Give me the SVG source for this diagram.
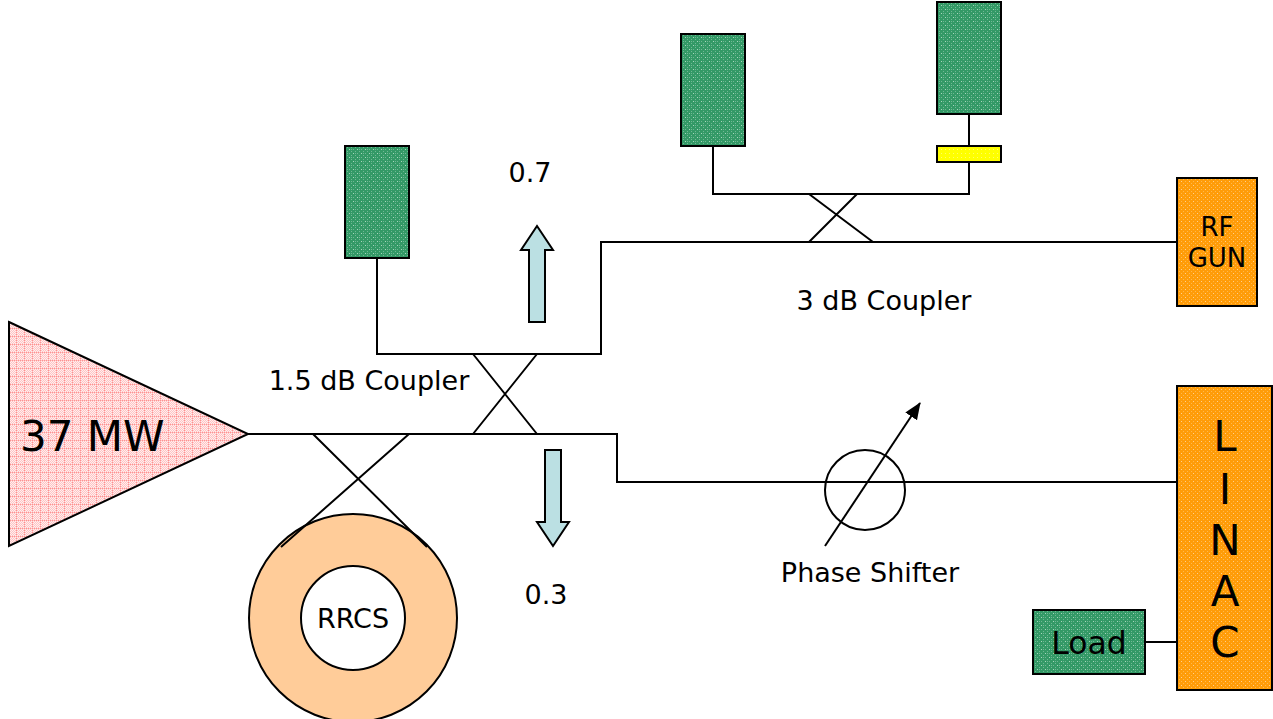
<svg xmlns="http://www.w3.org/2000/svg" width="1273" height="719" viewBox="0 0 1273 719">
<style>
text{font-family:"DejaVu Sans",Verdana,sans-serif;fill:#000}
.s{stroke:#000;stroke-width:2;fill:none}
.b{stroke:#000;stroke-width:2}
.l{font-size:27px}
.x{stroke:#000;stroke-width:2;fill:none}
</style>
<defs>
<pattern id="pg" width="8" height="8" patternUnits="userSpaceOnUse"><rect width="8" height="8" fill="#339966"/><path d="M1 1h1v1h-1zM5 1h1v1h-1zM3 3h1v1h-1zM7 3h1v1h-1zM1 5h1v1h-1zM3 7h1v1h-1zM7 7h1v1h-1zM3 1h1v1h-1zM7 5h1v1h-1z" fill="#70b894"/><path d="M5 5h1v1h-1zM1 1h1v1h-1z" fill="#a8d6bd"/></pattern>
<pattern id="po" width="8" height="8" patternUnits="userSpaceOnUse"><rect width="8" height="8" fill="#ff9c08"/><path d="M1 1h1v1h-1zM5 1h1v1h-1zM3 3h1v1h-1zM7 3h1v1h-1zM1 5h1v1h-1zM3 7h1v1h-1zM7 7h1v1h-1z" fill="#ffb84d"/><path d="M5 5h1v1h-1zM1 1h1v1h-1z" fill="#ffd090"/></pattern>
<pattern id="pr" width="8" height="8" patternUnits="userSpaceOnUse"><rect width="8" height="8" fill="#ffc4c4"/><path d="M1 1h1v1h-1zM3 1h1v1h-1zM5 1h1v1h-1zM7 1h1v1h-1zM2 2h1v1h-1zM4 2h1v1h-1zM6 2h1v1h-1zM1 3h1v1h-1zM3 3h1v1h-1zM5 3h1v1h-1zM7 3h1v1h-1zM2 4h1v1h-1zM4 4h1v1h-1zM6 4h1v1h-1zM1 5h1v1h-1zM3 5h1v1h-1zM5 5h1v1h-1zM7 5h1v1h-1zM2 6h1v1h-1zM4 6h1v1h-1zM6 6h1v1h-1zM1 7h1v1h-1zM3 7h1v1h-1zM5 7h1v1h-1zM7 7h1v1h-1z" fill="#ffeeee"/><path d="M0 0h1v1h-1zM2 0h1v1h-1zM4 0h1v1h-1zM6 0h1v1h-1zM0 2h1v1h-1zM0 4h1v1h-1zM0 6h1v1h-1z" fill="#ff9090"/></pattern>
<pattern id="py" width="4" height="4" patternUnits="userSpaceOnUse"><rect width="4" height="4" fill="#ffff00"/><rect x="1" y="1" width="1" height="1" fill="#ffff66"/></pattern>
<marker id="ah" markerUnits="userSpaceOnUse" markerWidth="18" markerHeight="18" refX="16" refY="7" orient="auto"><path d="M0 0L17 7L0 14Z" fill="#000"/></marker>
</defs>
<g id="connectors">
<path class="s" d="M248 434H617V482H1177"/>
<path class="s" d="M377 258V354H601V242H1177"/>
<path class="s" d="M713 146V194H969V114"/>
<path class="s" d="M1145 642H1177"/>
<path class="x" d="M473 354L537 434M537 354L473 434"/>
<path class="x" d="M809 194L873 242M857 194L809 242"/>
</g>
<g id="amp"><path class="b" fill="url(#pr)" d="M9 322L248 434L9 546Z"/><text x="20" y="451" font-size="42">37 MW</text></g>
<g id="rrcs"><circle class="b" cx="353" cy="618" r="104" fill="#ffcc99"/><circle class="b" cx="353" cy="618" r="52" fill="#fff"/><text x="353" y="628" font-size="27" text-anchor="middle">RRCS</text></g>
<g id="coupler-rrcs"><path class="x" d="M313 434L427 547M409 434L281 547"/></g>
<g id="klystron-1"><rect class="b" x="345" y="146" width="64" height="112" fill="url(#pg)"/></g>
<g id="klystron-2"><rect class="b" x="681" y="34" width="64" height="112" fill="url(#pg)"/></g>
<g id="klystron-3"><rect class="b" x="937" y="2" width="64" height="112" fill="url(#pg)"/></g>
<g id="attenuator"><rect class="b" x="937" y="146" width="64" height="16" fill="url(#py)"/></g>
<g id="rf-gun"><rect class="b" x="1177" y="178" width="80" height="128" fill="url(#po)"/><text x="1217" y="236" font-size="26" text-anchor="middle">RF</text><text x="1217" y="267" font-size="26" text-anchor="middle">GUN</text></g>
<g id="linac"><rect class="b" x="1177" y="386" width="95" height="304" fill="url(#po)"/>
<g font-size="42" text-anchor="middle"><text x="1225" y="451">L</text><text x="1225" y="504">I</text><text x="1225" y="555">N</text><text x="1225" y="606">A</text><text x="1225" y="657">C</text></g></g>
<g id="load"><rect class="b" x="1033" y="610" width="112" height="64" fill="url(#pg)"/><text x="1089" y="654" font-size="31.5" text-anchor="middle">Load</text></g>
<g id="phase-shifter"><circle class="x" cx="865" cy="490" r="40"/><path class="x" d="M825 546L920 403" marker-end="url(#ah)"/><text x="870" y="582" class="l" text-anchor="middle">Phase Shifter</text></g>
<g id="arrow-up"><path class="b" fill="#bbe0e3" d="M529 322V250H521L537 226L553 250H545V322Z"/></g>
<g id="arrow-down"><path class="b" fill="#bbe0e3" d="M545 450V522H537L553 546L569 522H561V450Z"/></g>
<text x="530" y="182" class="l" text-anchor="middle">0.7</text>
<text x="546" y="604" class="l" text-anchor="middle">0.3</text>
<text x="369" y="390" class="l" text-anchor="middle">1.5 dB Coupler</text>
<text x="884" y="310" class="l" text-anchor="middle">3 dB Coupler</text>
</svg>
